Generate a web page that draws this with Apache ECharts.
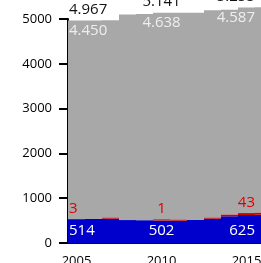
<!DOCTYPE html>
<html>
<head>
<meta charset="utf-8">
<script src="https://cdn.jsdelivr.net/npm/echarts@6/dist/echarts.min.js"></script>
<style>
html,body{margin:0;padding:0;background:#fff;}
#c{width:261px;height:263px;}
</style>
</head>
<body>
<div id="c"></div>
<script>
const years = ['2005','2006','2007','2008','2009','2010','2011','2012','2013','2014','2015','2016'];
const blueValues = [514, 536, 543, 512, 510, 502, 498, 521, 543, 597, 625, 630];
const redValues  = [3, 0, 20, 0, 0, 1, 20, 0, 20, 35, 43, 45];
const grayValues = [4450, 4431, 4407, 4591, 4600, 4638, 4622, 4619, 4632, 4573, 4587, 4585];
const yTicks = [0, 1000, 2000, 3000, 4000, 5000];
const labeledYears = ['2005', '2010', '2015'];

const FONT = 'Open Sans';
function fmt(v) {
  return String(v).replace(/\B(?=(\d{3})+(?!\d))/g, '.');
}
function xAnchor(i) {
  const k = labeledYears.indexOf(years[i]);
  if (k === 0) return { x: 1, align: 'left' };
  if (k === labeledYears.length - 1) return { x: '100%', align: 'right' };
  return { x: '50%', align: 'center' };
}
function isLabeled(i) { return labeledYears.indexOf(years[i]) >= 0; }

function build(values, mapNull, labelFn) {
  return values.map((v, i) => {
    const val = (mapNull && v === 0) ? null : v;
    if (!isLabeled(i)) return { value: val };
    return { value: val, label: labelFn(i, v) };
  });
}
const totals = years.map((_, i) => blueValues[i] + redValues[i] + grayValues[i]);

const baseLabel = { show: true, fontFamily: FONT, fontSize: 15, lineHeight: 15 };

const blueData = build(blueValues, false, (i, v) => {
  const a = xAnchor(i);
  return Object.assign({}, baseLabel, { position: [a.x, '100%'], align: a.align, verticalAlign: 'bottom', offset: [0, -5], color: '#ffffff', formatter: fmt(v) });
});
const redData = build(redValues, true, (i, v) => {
  const a = xAnchor(i);
  return Object.assign({}, baseLabel, { position: [a.x, 0], align: a.align, verticalAlign: 'bottom', offset: [0, -3], color: '#dd0000', formatter: fmt(v) });
});
const grayData = build(grayValues, false, (i, v) => {
  const a = xAnchor(i);
  return Object.assign({}, baseLabel, { position: [a.x, 0], align: a.align, verticalAlign: 'top', offset: [0, 3], color: '#eeeeee', formatter: fmt(v) });
});
const totalData = build(years.map(() => 0), false, (i) => {
  const a = xAnchor(i);
  return Object.assign({}, baseLabel, { position: [a.x, 0], align: a.align, verticalAlign: 'bottom', offset: [0, -3], color: '#111111', formatter: fmt(totals[i]) });
});

const common = { type: 'bar', stack: 's', clip: false, barCategoryGap: '0%', barGap: '0%', label: { show: false } };

const chart = echarts.init(document.getElementById('c'), null, { renderer: 'canvas' });
chart.setOption({
  animation: false,
  backgroundColor: '#ffffff',
  grid: { left: 68, right: -11, top: 19, bottom: 20, containLabel: false, outerBoundsMode: 'none' },
  xAxis: {
    type: 'category',
    data: years,
    axisLine: { show: true, lineStyle: { color: '#000', width: 2 } },
    axisTick: { show: false },
    axisLabel: {
      fontFamily: FONT, fontSize: 13, color: '#000', margin: 12,
      interval: (idx, val) => labeledYears.indexOf(val) >= 0
    },
    splitLine: { show: false }
  },
  yAxis: {
    type: 'value',
    min: yTicks[0],
    max: yTicks[yTicks.length - 1],
    interval: yTicks[1] - yTicks[0],
    axisLine: { show: true, lineStyle: { color: '#000', width: 2 } },
    axisTick: { show: true, length: 9, lineStyle: { color: '#000', width: 2 } },
    axisLabel: { fontFamily: FONT, fontSize: 13, color: '#000', margin: 16, formatter: (v) => String(v) },
    splitLine: { show: false }
  },
  series: [
    Object.assign({}, common, { name: 'blue', data: blueData, itemStyle: { color: '#0000cc', borderWidth: 0 }, z: 2 }),
    Object.assign({}, common, { name: 'red', data: redData, barMinHeight: 1, itemStyle: { color: '#cc0000', borderWidth: 0 }, z: 4 }),
    Object.assign({}, common, { name: 'gray', data: grayData, itemStyle: { color: '#a8a8a8', borderWidth: 0 }, z: 2 }),
    Object.assign({}, common, { name: 'total', data: totalData, itemStyle: { color: 'rgba(0,0,0,0)' }, z: 5 })
  ]
});
</script>
</body>
</html>
